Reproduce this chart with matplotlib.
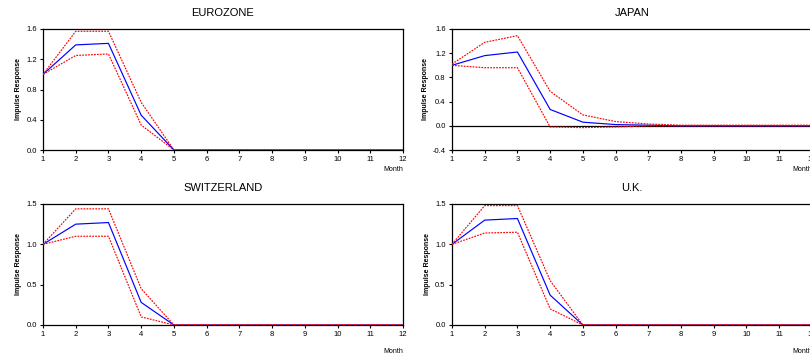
import matplotlib
matplotlib.use('Agg')
import matplotlib.pyplot as plt

plt.rcParams['font.family'] = ['Liberation Sans', 'DejaVu Sans']

months = list(range(1, 13))

# impulse responses with upper/lower bands
euro_resp = [1.0, 1.39, 1.41, 0.46, 0, 0, 0, 0, 0, 0, 0, 0]
euro_up = [1.0, 1.57, 1.57, 0.63, 0, 0, 0, 0, 0, 0, 0, 0]
euro_lo = [1.0, 1.25, 1.27, 0.33, 0, 0, 0, 0, 0, 0, 0, 0]

japan_resp = [1.0, 1.16, 1.22, 0.27, 0.06, 0.02, 0.01, 0, 0, 0, 0, 0]
japan_up = [1.02, 1.38, 1.49, 0.57, 0.18, 0.07, 0.03, 0.01, 0.01, 0.01, 0.01, 0.01]
japan_lo = [1.0, 0.96, 0.96, -0.02, -0.03, -0.02, 0.0, 0, 0, 0, 0, 0]

swiss_resp = [1.0, 1.25, 1.27, 0.28, 0, 0, 0, 0, 0, 0, 0, 0]
swiss_up = [1.0, 1.44, 1.44, 0.45, 0, 0, 0, 0, 0, 0, 0, 0]
swiss_lo = [1.0, 1.10, 1.10, 0.10, 0, 0, 0, 0, 0, 0, 0, 0]

uk_resp = [1.0, 1.30, 1.32, 0.37, 0, 0, 0, 0, 0, 0, 0, 0]
uk_up = [1.0, 1.48, 1.48, 0.55, 0, 0, 0, 0, 0, 0, 0, 0]
uk_lo = [1.0, 1.14, 1.15, 0.20, 0, 0, 0, 0, 0, 0, 0, 0]

panels = [
    ('EUROZONE', euro_resp, euro_up, euro_lo, (0.0, 1.6), [0.0, 0.4, 0.8, 1.2, 1.6]),
    ('JAPAN', japan_resp, japan_up, japan_lo, (-0.4, 1.6), [-0.4, 0.0, 0.4, 0.8, 1.2, 1.6]),
    ('SWITZERLAND', swiss_resp, swiss_up, swiss_lo, (0.0, 1.5), [0.0, 0.5, 1.0, 1.5]),
    ('U.K.', uk_resp, uk_up, uk_lo, (0.0, 1.5), [0.0, 0.5, 1.0, 1.5]),
]

positions = [
    [0.0531, 0.581, 0.4444, 0.338],
    [0.558, 0.581, 0.4444, 0.338],
    [0.0531, 0.0922, 0.4444, 0.338],
    [0.558, 0.0922, 0.4444, 0.338],
]
month_y = [-0.13, -0.13, -0.19, -0.19]

fig = plt.figure(figsize=(8.1, 3.58), dpi=100)

for (title, resp, up, lo, ylim, yticks), pos, my in zip(panels, positions, month_y):
    ax = fig.add_axes(pos)
    if ylim[0] < 0:
        ax.axhline(0, color='black', lw=0.9, zorder=1)
    ax.plot(months, resp, color='blue', lw=0.85, zorder=3)
    ax.plot(months, up, color='red', lw=0.85, linestyle=(0, (1.5, 1)), zorder=4)
    ax.plot(months, lo, color='red', lw=0.85, linestyle=(0, (1.5, 1)), zorder=4)
    ax.set_xlim(1, 12)
    ax.set_ylim(*ylim)
    ax.set_xticks(months)
    ax.set_yticks(yticks)
    ax.set_yticklabels(['%.1f' % v for v in yticks])
    ax.tick_params(labelsize=5.5, length=2.5, width=0.8, pad=2)
    for s in ax.spines.values():
        s.set_linewidth(0.9)
    ax.set_title(title, fontsize=8, pad=9)
    ax.set_ylabel('Impulse Response', fontsize=5, fontweight='bold', labelpad=3)
    ax.text(1.0, my, 'Month', transform=ax.transAxes, fontsize=5,
            ha='right', va='top')

fig.savefig('out.png', dpi=100)
